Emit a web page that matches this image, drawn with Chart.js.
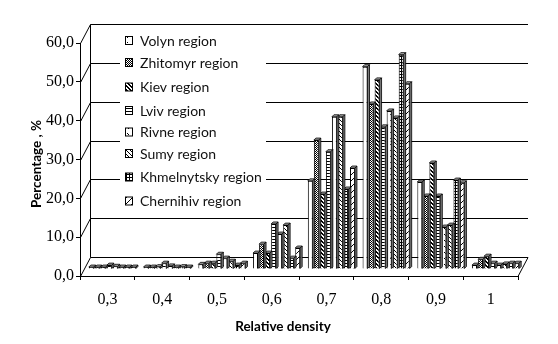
<!DOCTYPE html>
<html><head><meta charset="utf-8">
<script src="https://cdn.jsdelivr.net/npm/chart.js@4"></script>
<style>html,body{margin:0;padding:0;background:#fff}#wrap{width:558px;height:344px}</style>
</head><body><div id="wrap"><canvas id="c" width="558" height="344"></canvas></div>
<script>
const categories = ['0,3','0,4','0,5','0,6','0,7','0,8','0,9','1'];
const seriesNames = ['Volyn region','Zhitomyr region','Kiev region','Lviv region','Rivne region','Sumy region','Khmelnytsky region','Chernihiv region'];
const volyn    = [0.5, 0.5, 1.2, 4.1, 22.7, 52.1, 22.4, 1.0];
const zhitomyr = [0.5, 0.5, 1.5, 6.4, 33.2, 42.5, 18.8, 2.5];
const kiev     = [0.5, 0.6, 1.5, 4.1, 19.3, 48.7, 27.3, 3.3];
const lviv     = [1.0, 1.5, 3.8, 11.6, 30.2, 36.6, 18.8, 1.5];
const rivne    = [0.7, 0.8, 2.8, 9.0, 39.2, 40.7, 10.8, 1.0];
const sumy     = [0.5, 0.5, 2.0, 11.3, 39.2, 38.9, 11.3, 1.3];
const khmel    = [0.5, 0.6, 1.0, 2.8, 20.6, 55.2, 22.9, 1.5];
const cherni   = [0.5, 0.5, 1.5, 5.4, 26.0, 47.7, 22.2, 1.5];
const yTicks = [0, 10, 20, 30, 40, 50, 60];

const canvas = document.getElementById('c');
const mainCtx = canvas.getContext('2d');
function pat(size, draw) {
  const c = document.createElement('canvas'); c.width = c.height = size;
  const g = c.getContext('2d');
  g.fillStyle = '#fff'; g.fillRect(0, 0, size, size);
  g.fillStyle = '#000'; draw(g, size);
  return mainCtx.createPattern(c, 'repeat');
}
const patterns = [
  pat(5, g => { g.fillRect(2, 2, 1, 1); }),
  pat(2, g => { g.fillRect(0, 0, 1, 1); g.fillRect(1, 1, 1, 1); }),
  pat(4, (g, s) => { for (let i = 0; i < s; i++) { g.fillRect(i, i, 1, 1); g.fillRect((i + 1) % s, i, 1, 1); } }),
  pat(3, g => { g.fillRect(0, 0, 3, 1); }),
  pat(6, g => { g.fillRect(1, 1, 1, 1); g.fillRect(2, 2, 1, 1); }),
  pat(4, (g, s) => { for (let i = 0; i < s; i++) g.fillRect(i, i, 1, 1); }),
  pat(3, g => { g.fillRect(0, 0, 3, 1); g.fillRect(0, 0, 1, 3); }),
  pat(6, (g, s) => { for (let i = 0; i < s; i++) g.fillRect(s - 1 - i, i, 1, 1); })
];
const seriesData = [volyn, zhitomyr, kiev, lviv, rivne, sumy, khmel, cherni];

const WX = 10, WY = 19;   // wall depth offset
const BX = 5, BY = -7;    // bar row offset
const D = 2;              // bar depth

const threeD = {
  id: 'threeD',
  beforeDatasetsDraw(chart) {
    const ctx = chart.ctx, a = chart.chartArea, sy = chart.scales.y;
    ctx.save();
    ctx.strokeStyle = '#000'; ctx.lineWidth = 1;
    ctx.beginPath();
    yTicks.forEach(v => {
      const y = Math.round(sy.getPixelForValue(v)) + 0.5;
      ctx.moveTo(a.left + 0.5, y); ctx.lineTo(a.left + WX + 0.5, y - WY);
      ctx.lineTo(a.right + WX, y - WY);
    });
    const y0 = Math.round(sy.getPixelForValue(0)) + 0.5;
    const y60 = Math.round(sy.getPixelForValue(60)) + 0.5;
    ctx.moveTo(a.left + WX + 0.5, y0 - WY); ctx.lineTo(a.left + WX + 0.5, y60 - WY);
    ctx.moveTo(a.right, y0); ctx.lineTo(a.right + WX, y0 - WY);
    ctx.stroke();
    ctx.restore();
    ctx.save();
    ctx.translate(BX, BY);
  },
  afterDatasetDraw(chart, args) {
    const ctx = chart.ctx;
    const meta = args.meta;
    meta.data.forEach(el => {
      const p = el.getProps(['x', 'y', 'base', 'width'], true);
      const x0 = p.x - p.width / 2, x1 = p.x + p.width / 2, top = p.y, base = p.base;
      ctx.save();
      ctx.strokeStyle = '#000'; ctx.lineWidth = 0.8;
      ctx.fillStyle = '#a8a8a8';
      ctx.beginPath();
      ctx.moveTo(x0, top); ctx.lineTo(x0 + D, top - D); ctx.lineTo(x1 + D, top - D); ctx.lineTo(x1, top); ctx.closePath();
      ctx.fill(); ctx.stroke();
      ctx.fillStyle = '#7a7a7a';
      ctx.beginPath();
      ctx.moveTo(x1, top); ctx.lineTo(x1 + D, top - D); ctx.lineTo(x1 + D, base - D); ctx.lineTo(x1, base); ctx.closePath();
      ctx.fill(); ctx.stroke();
      ctx.restore();
    });
  },
  afterDatasetsDraw(chart) {
    const ctx = chart.ctx;
    ctx.restore();
    // legend
    ctx.save();
    ctx.fillStyle = '#fff';
    ctx.fillRect(120, 29, 146, 185);
    const ys = [41, 63, 87.5, 111, 132.5, 154, 177.5, 201.5];
    ctx.font = '14px Lato';
    ctx.textBaseline = 'middle';
    chart.data.datasets.forEach((ds, i) => {
      const y = ys[i];
      ctx.fillStyle = ds.backgroundColor;
      ctx.fillRect(125.5, y - 4.5, 7, 8);
      ctx.strokeStyle = '#000'; ctx.lineWidth = 1;
      ctx.strokeRect(125.5, y - 4.5, 7, 8);
      ctx.fillStyle = '#111';
      ctx.fillText(ds.label, 140, y);
    });
    // axis titles
    ctx.fillStyle = '#000';
    ctx.font = 'bold 13.5px Lato';
    ctx.textAlign = 'center';
    ctx.fillText('Relative density', 283, 327);
    ctx.translate(37, 164);
    ctx.rotate(-Math.PI / 2);
    ctx.fillText('Percentage , %', 0, 0);
    ctx.restore();
  }
};

new Chart(canvas, {
  type: 'bar',
  data: {
    labels: categories,
    datasets: seriesNames.map((n, i) => ({
      label: n,
      data: seriesData[i],
      backgroundColor: patterns[i],
      borderColor: '#000',
      borderWidth: 1,
      categoryPercentage: 0.88,
      barPercentage: 0.82
    }))
  },
  options: {
    responsive: false,
    animation: false,
    devicePixelRatio: 1,
    layout: { padding: { left: 0, right: 40, top: 43, bottom: 0 } },
    plugins: { legend: { display: false }, tooltip: { enabled: false } },
    scales: {
      x: {
        afterFit: s => { s.height = 68; },
        grid: { display: true, drawOnChartArea: false, drawTicks: true, tickLength: 4, color: '#000', offset: true },
        border: { display: true, color: '#000' },
        ticks: { color: '#000', font: { family: 'Liberation Serif', size: 16 }, padding: 10 }
      },
      y: {
        min: 0, max: 60,
        afterFit: s => { s.width = 80; },
        afterBuildTicks: s => { s.ticks = yTicks.map(v => ({ value: v })); },
        grid: { display: true, drawOnChartArea: false, drawTicks: true, tickLength: 4, color: '#000' },
        border: { display: true, color: '#000' },
        ticks: {
          color: '#000', font: { family: 'Liberation Serif', size: 16 }, padding: 2,
          callback: v => v.toFixed(1).replace('.', ',')
        }
      }
    }
  },
  plugins: [threeD]
});
</script>
</body></html>
